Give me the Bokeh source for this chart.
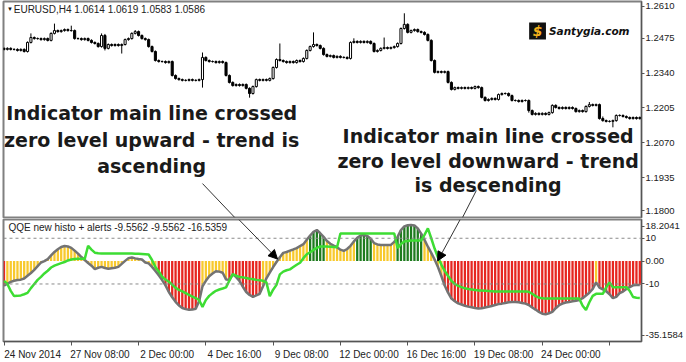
import numpy as np
from bokeh.plotting import figure
from bokeh.layouts import column
from bokeh.models import (Range1d, FixedTicker, Span, Label, Arrow, NormalHead,
                          ColumnDataSource, BoxAnnotation)
from bokeh.embed import file_html
from bokeh.resources import INLINE

# ---------------- data ----------------
# EURUSD H4 closes, one per bar (bar 0 = 24 Nov 2014 00:00)
CLOSE = [
    1.2432, 1.2436, 1.2432, 1.2432, 1.2428, 1.2432, 1.2424, 1.2459, 1.2478, 1.2474,
    1.2474, 1.2470, 1.2474, 1.2467, 1.2494, 1.2505, 1.2501, 1.2505, 1.2509, 1.2505,
    1.2505, 1.2474, 1.2474, 1.2470, 1.2474, 1.2467, 1.2459, 1.2455, 1.2443, 1.2486,
    1.2436, 1.2451, 1.2447, 1.2451, 1.2447, 1.2451, 1.2470, 1.2474, 1.2494, 1.2501,
    1.2486, 1.2474, 1.2470, 1.2443, 1.2424, 1.2389, 1.2385, 1.2385, 1.2381, 1.2385,
    1.2331, 1.2319, 1.2315, 1.2312, 1.2312, 1.2315, 1.2312, 1.2312, 1.2315, 1.2401,
    1.2389, 1.2385, 1.2385, 1.2381, 1.2385, 1.2381, 1.2331, 1.2304, 1.2292, 1.2296,
    1.2292, 1.2296, 1.2281, 1.2261, 1.2288, 1.2315, 1.2312, 1.2315, 1.2312, 1.2319,
    1.2362, 1.2393, 1.2389, 1.2385, 1.2381, 1.2385, 1.2381, 1.2389, 1.2385, 1.2397,
    1.2428, 1.2443, 1.2451, 1.2447, 1.2436, 1.2412, 1.2405, 1.2408, 1.2401, 1.2405,
    1.2401, 1.2401, 1.2397, 1.2459, 1.2463, 1.2459, 1.2463, 1.2459, 1.2463, 1.2455,
    1.2424, 1.2428, 1.2436, 1.2439, 1.2436, 1.2439, 1.2443, 1.2455, 1.2513, 1.2529,
    1.2498, 1.2505, 1.2509, 1.2501, 1.2498, 1.2490, 1.2467, 1.2389, 1.2343, 1.2346,
    1.2343, 1.2346, 1.2304, 1.2277, 1.2284, 1.2281, 1.2284, 1.2281, 1.2284, 1.2281,
    1.2288, 1.2284, 1.2246, 1.2234, 1.2238, 1.2242, 1.2238, 1.2257, 1.2261, 1.2261,
    1.2253, 1.2234, 1.2234, 1.2230, 1.2234, 1.2234, 1.2195, 1.2180, 1.2184, 1.2180,
    1.2184, 1.2180, 1.2187, 1.2215, 1.2207, 1.2203, 1.2207, 1.2203, 1.2207, 1.2203,
    1.2191, 1.2195, 1.2191, 1.2211, 1.2218, 1.2215, 1.2218, 1.2164, 1.2156, 1.2153,
    1.2153, 1.2156, 1.2176, 1.2176, 1.2172, 1.2168, 1.2164, 1.2168, 1.2164, 1.2168,
]
FIRST_OPEN = 1.2436          # each later bar opens at the previous close
PIP = 0.0001
# upper / lower shadows in pips
WICK_HI = [
    4, 4, 4, 4, 4, 4, 4, 4, 16, 4,
    4, 4, 4, 4, 4, 27, 4, 4, 4, 4,
    19, 4, 4, 4, 4, 4, 4, 4, 4, 8,
    6, 4, 4, 4, 4, 4, 4, 4, 4, 6,
    4, 4, 4, 4, 4, 4, 4, 4, 4, 4,
    4, 4, 4, 4, 4, 4, 4, 4, 4, 19,
    4, 4, 4, 4, 4, 4, 4, 4, 4, 4,
    4, 4, 4, 4, 4, 4, 4, 4, 4, 4,
    4, 4, 62, 4, 4, 4, 4, 4, 4, 4,
    4, 4, 47, 4, 4, 4, 4, 4, 4, 4,
    4, 4, 4, 4, 12, 4, 4, 4, 4, 4,
    4, 4, 4, 39, 4, 4, 4, 4, 4, 43,
    4, 4, 4, 4, 4, 4, 4, 4, 4, 4,
    4, 4, 4, 4, 4, 4, 4, 4, 4, 4,
    4, 4, 4, 4, 4, 4, 4, 4, 4, 4,
    4, 4, 4, 4, 4, 4, 4, 4, 4, 4,
    4, 4, 4, 4, 4, 4, 4, 4, 4, 4,
    4, 4, 4, 4, 10, 4, 4, 4, 8, 4,
    4, 4, 4, 4, 4, 4, 4, 4, 4, 4,
]
WICK_LO = [
    4, 4, 4, 4, 4, 4, 4, 4, 4, 4,
    4, 4, 4, 4, 4, 4, 4, 4, 4, 4,
    4, 4, 4, 4, 4, 4, 4, 4, 4, 4,
    8, 4, 4, 4, 4, 31, 4, 4, 4, 4,
    4, 4, 4, 4, 4, 4, 4, 4, 4, 4,
    4, 4, 4, 4, 4, 4, 4, 4, 4, 31,
    4, 4, 4, 4, 4, 4, 4, 4, 4, 4,
    4, 4, 4, 16, 4, 4, 4, 4, 4, 4,
    4, 4, 4, 4, 4, 4, 4, 4, 4, 4,
    4, 4, 4, 4, 4, 4, 4, 4, 4, 4,
    4, 4, 4, 4, 4, 4, 4, 4, 4, 4,
    4, 4, 4, 4, 4, 4, 4, 4, 4, 4,
    4, 4, 4, 4, 4, 4, 4, 4, 4, 4,
    4, 4, 4, 4, 4, 4, 4, 4, 4, 4,
    4, 4, 4, 4, 4, 4, 4, 4, 4, 4,
    4, 4, 4, 4, 4, 4, 8, 4, 4, 4,
    4, 4, 4, 4, 4, 4, 4, 4, 4, 4,
    4, 4, 4, 4, 4, 4, 4, 4, 4, 4,
    4, 23, 4, 4, 4, 4, 4, 4, 4, 4,
]
# QQE histogram (main line) per bar
HIST = [
    -10.7, -9.9, -9.1, -8.6, -8.3, -8.1, -7.6, -6.4, -5.2, -3.8,
    -2.2, -0.6, 0.0, 0.9, 2.5, 4.0, 5.2, 6.2, 6.6, 6.4,
    5.8, 4.6, 3.3, 1.8, 0.5, -0.8, -2.0, -3.5, -2.9, -2.5,
    -3.0, -3.3, -3.1, -2.9, -2.5, -1.2, 0.1, 1.3, 1.6, 1.2,
    0.9, 0.7, -0.6, -1.0, -2.5, -4.3, -6.2, -8.3, -10.6, -13.5,
    -15.8, -17.8, -19.4, -20.5, -21.0, -21.3, -21.2, -20.8, -17.5, -11.0,
    -8.6, -6.6, -5.4, -4.4, -4.6, -5.1, -8.0, -8.2, -5.8, -7.0,
    -8.7, -11.2, -13.5, -14.8, -15.6, -15.0, -14.3, -11.0, -7.5, -5.0,
    -2.6, -0.4, 1.7, 3.6, 4.0, 4.6, 5.1, 5.7, 6.6, 7.4,
    9.3, 11.2, 12.8, 13.6, 12.2, 10.6, 8.8, 7.6, 6.8, 6.1,
    5.0, 4.5, 5.3, 6.7, 8.6, 10.2, 11.2, 11.4, 11.0, 9.8,
    7.9, 7.3, 7.1, 7.1, 7.0, 7.1, 8.4, 10.6, 13.6, 15.2,
    15.7, 15.8, 15.6, 14.3, 12.0, 9.3, 6.3, 3.6, 0.7, -2.6,
    -6.5, -10.7, -13.8, -16.4, -17.5, -18.5, -19.0, -19.5, -19.9, -20.2,
    -20.5, -20.7, -20.6, -20.3, -20.0, -19.6, -19.2, -18.8, -18.6, -18.3,
    -18.0, -17.9, -17.9, -18.0, -18.3, -18.6, -19.2, -20.3, -21.2, -22.2,
    -23.0, -23.3, -22.8, -22.2, -20.6, -19.3, -18.6, -18.1, -17.9, -17.6,
    -17.3, -17.0, -16.2, -15.0, -13.8, -12.2, -9.3, -11.6, -12.4, -13.2,
    -14.5, -16.2, -15.6, -14.0, -13.3, -12.2, -11.4, -10.6, -10.4, -10.4,
]
# QQE trailing (signal) line per bar
SIGNAL = [
    -8.6, -10.0, -13.0, -15.3, -15.2, -15.0, -14.5, -13.9, -11.8, -10.0,
    -8.2, -6.9, -5.4, -4.2, -2.8, -2.0, -1.4, -0.9, -0.4, 0.3,
    0.7, 0.9, 1.0, 1.0, 1.0, 6.7, 5.0, 3.7, 3.4, 3.3,
    3.3, 3.3, 3.3, 3.3, 3.3, 3.3, 3.3, 3.3, 3.3, 3.2,
    3.2, 3.1, 3.0, 2.9, 0.5, -2.6, -4.5, -6.8, -8.0, -9.0,
    -10.3, -11.7, -12.6, -13.2, -14.0, -14.8, -15.5, -16.2, -17.0, -20.0,
    -17.0, -15.2, -14.0, -13.0, -12.4, -12.0, -11.5, -8.5, -5.7, -6.4,
    -6.9, -7.1, -7.4, -7.7, -7.9, -8.2, -8.4, -8.6, -9.3, -15.3,
    -12.5, -10.4, -5.8, -4.6, -4.0, -3.6, -2.6, -1.6, -0.7, 1.3,
    3.0, 3.9, 4.9, 5.8, 6.4, 6.4, 6.4, 6.3, 6.2, 6.1,
    12.1, 12.1, 12.1, 12.1, 12.1, 12.1, 12.1, 12.1, 12.1, 12.1,
    12.1, 12.1, 12.1, 12.1, 12.1, 12.1, 12.1, 5.7, 7.5, 8.6,
    8.8, 9.0, 9.0, 9.0, 9.0, 11.5, 14.3, 10.0, 5.5, 1.6,
    -1.5, -4.3, -6.5, -8.6, -10.0, -10.8, -11.4, -11.9, -12.2, -12.4,
    -12.6, -12.8, -12.9, -13.0, -13.1, -13.2, -13.3, -13.3, -13.3, -13.3,
    -13.3, -13.3, -13.3, -13.3, -13.3, -13.3, -13.4, -14.3, -15.3, -16.0,
    -16.2, -16.4, -16.4, -16.4, -16.4, -16.4, -16.4, -16.4, -16.4, -16.4,
    -16.4, -16.4, -19.5, -21.4, -18.0, -15.2, -14.3, -14.3, -14.3, -11.5,
    -9.3, -11.4, -11.4, -11.4, -11.4, -11.4, -13.0, -15.7, -16.0, -16.1,
]
# histogram bar colour runs: R = red, Y = yellow, G = dark green
HIST_COLOR_RUNS = [("R", 1), ("Y", 45), ("R", 13), ("Y", 8), ("R", 10), ("Y", 14),
                   ("G", 5), ("Y", 9), ("G", 5), ("Y", 7), ("G", 8), ("Y", 6),
                   ("R", 45), ("Y", 1), ("R", 13)]
PRICE_TICKS = [1.2610, 1.2475, 1.2340, 1.2205, 1.2070, 1.1935, 1.1800]
PRICE_TICK_LABELS = ["1.2610", "1.2475", "1.2340", "1.2205", "1.2070", "1.1935", "1.1800"]
IND_TICK_LABELS = ["18.2041", "10", "0.00", "-10", "-35.1584"]
IND_TICK_VALUES = [18.2041, 10, 0, -10, -35.1584]
TIME_TICK_BARS = [0, 20, 40, 60, 80, 100, 120, 140, 160, 180]
TIME_TICK_LABELS = ["24 Nov 2014", "27 Nov 08:00", "2 Dec 00:00", "4 Dec 16:00",
                    "9 Dec 08:00", "12 Dec 00:00", "16 Dec 16:00", "19 Dec 08:00",
                    "24 Dec 00:00", ""]
PRICE_TITLE = "EURUSD,H4 1.0614 1.0619 1.0583 1.0586"
IND_TITLE = "QQE new histo + alerts -9.5562 -9.5562 -16.5359"

# ---------------- build ----------------
N = len(CLOSE)
x = np.arange(N)
c = np.array(CLOSE)
o = np.array([FIRST_OPEN] + CLOSE[:-1])
hi = np.maximum(o, c) + np.array(WICK_HI) * PIP
lo = np.minimum(o, c) - np.array(WICK_LO) * PIP
fill = np.where(c >= o, "white", "black")
csrc = ColumnDataSource(dict(x=x, hi=hi, lo=lo, top=np.maximum(o, c),
                             bot=np.minimum(o, c), fill=fill))

cmap = {"R": "#E62620", "Y": "#F8C92C", "G": "#1E7B1E"}
hcols = []
for k, n in HIST_COLOR_RUNS:
    hcols += [cmap[k]] * n
hsrc = ColumnDataSource(dict(x=x, h=HIST, s=SIGNAL, col=hcols))

W = 686
XR = Range1d(-0.15, 189.5)
LABEL_FONT = "Liberation Sans"


def style_common(p):
    p.grid.visible = False
    p.outline_line_color = "#808080"
    p.outline_line_width = 2
    p.background_fill_color = "white"
    p.border_fill_color = "white"


def style_right_axis(ax):
    ax.major_label_text_font = LABEL_FONT
    ax.major_label_text_font_size = "9.5px"
    ax.major_label_text_color = "#222222"
    ax.major_tick_out = 3
    ax.major_tick_in = 0
    ax.minor_tick_out = 0
    ax.minor_tick_in = 0
    ax.axis_line_color = "#555555"
    ax.major_tick_line_color = "#555555"
    ax.major_label_standoff = 1


# ---- price window ----
top = figure(width=W, height=218, x_range=XR, y_range=Range1d(1.17805, 1.26177),
             x_axis_location=None, y_axis_location="right",
             output_backend="svg", toolbar_location=None,
             min_border_left=3, min_border_right=42, min_border_top=1, min_border_bottom=1)
style_common(top)
ya = top.yaxis[0]
# the end labels are drawn a touch inside the window, as the terminal does
price_label_pos = [PRICE_TICKS[0] - 0.0011] + PRICE_TICKS[1:-1] + [PRICE_TICKS[-1] + 0.0006]
ya.ticker = FixedTicker(ticks=price_label_pos)
ya.major_label_overrides = {p_: l for p_, l in zip(price_label_pos, PRICE_TICK_LABELS)}
style_right_axis(ya)

top.segment("x", "hi", "x", "lo", source=csrc, line_color="black", line_width=1)
top.vbar(x="x", top="top", bottom="bot", width=0.62, fill_color="fill",
         line_color="black", line_width=1, source=csrc)

top.add_layout(Label(x=0.9, y=1.2587, text="\u25BC", text_font_size="6px",
                     text_color="#111111", text_baseline="middle", text_align="left"))
top.add_layout(Label(x=2.9, y=1.2587, text=PRICE_TITLE, text_font=LABEL_FONT,
                     text_font_size="10px", text_color="#222222",
                     text_baseline="middle", text_align="left"))

# watermark logo
top.add_layout(BoxAnnotation(left=156.1, right=161.1, top=1.2536, bottom=1.2470,
                             fill_color="#111111", fill_alpha=1.0, line_color=None))
top.add_layout(Label(x=158.6, y=1.2503, text="$", text_font="DejaVu Sans",
                     text_font_style="bold italic", text_font_size="14px",
                     text_color="#F5B21C", text_align="center", text_baseline="middle"))
top.add_layout(Label(x=162.0, y=1.2503, text="Santygia.com", text_font="DejaVu Sans",
                     text_font_style="bold italic", text_font_size="10.5px",
                     text_color="#111111", text_align="left", text_baseline="middle"))

ANN = dict(text_font="DejaVu Sans", text_font_style="bold", text_font_size="19px",
           text_color="#1a1a1a", text_align="center", text_baseline="middle")
for txt, yy in [("Indicator main line crossed", 1.21836),
                ("zero level upward - trend is", 1.20790),
                ("ascending", 1.19782)]:
    top.add_layout(Label(x=43.9, y=yy, text=txt, **ANN))
for txt, yy in [("Indicator main line crossed", 1.20983),
                ("zero level downward - trend", 1.20014),
                ("is descending", 1.19084)]:
    top.add_layout(Label(x=143.9, y=yy, text=txt, **ANN))

top.add_layout(Arrow(end=None, x_start=59.0, y_start=1.1912, x_end=68.6, y_end=1.17805,
                     line_color="#333333", line_width=1))
top.add_layout(Arrow(end=None, x_start=140.4, y_start=1.1885, x_end=136.3, y_end=1.17805,
                     line_color="#333333", line_width=1))

# ---- indicator window ----
bot = figure(width=W, height=144, x_range=XR, y_range=Range1d(-35.1584, 18.2041),
             y_axis_location="right", output_backend="svg", toolbar_location=None,
             min_border_left=3, min_border_right=42, min_border_top=1, min_border_bottom=19)
style_common(bot)
yb = bot.yaxis[0]
# extreme labels are drawn just inside the window, as the terminal does
ind_label_pos = [15.2, 10, 0, -10, -32.4]
yb.ticker = FixedTicker(ticks=ind_label_pos)
yb.major_label_overrides = {p_: l for p_, l in zip(ind_label_pos, IND_TICK_LABELS)}
style_right_axis(yb)

xa = bot.xaxis[0]
SHIFT = 8.5
lab_ticks = [b + SHIFT for b, l in zip(TIME_TICK_BARS, TIME_TICK_LABELS) if l]
xa.ticker = FixedTicker(ticks=lab_ticks, minor_ticks=TIME_TICK_BARS)
xa.major_label_overrides = {b + SHIFT: l for b, l in zip(TIME_TICK_BARS, TIME_TICK_LABELS) if l}
xa.major_tick_out = 0
xa.major_tick_in = 0
xa.minor_tick_out = 4
xa.minor_tick_in = 0
xa.axis_line_color = "#555555"
xa.minor_tick_line_color = "#555555"
xa.major_label_standoff = 3
xa.major_label_text_font = LABEL_FONT
xa.major_label_text_font_size = "10px"
xa.major_label_text_color = "#222222"

for lv in (10, -10):
    bot.add_layout(Span(location=lv, dimension="width", line_color="#8a8a8a",
                        line_dash="3 3", line_width=1))

bot.vbar(x="x", top="h", bottom=0, width=0.68, fill_color="col", line_color=None, source=hsrc)
bot.line("x", "h", source=hsrc, line_color="#737373", line_width=2.5)
bot.line("x", "s", source=hsrc, line_color="#3DDD33", line_width=2.5)

bot.add_layout(Label(x=1.3, y=14.6, text=IND_TITLE, text_font=LABEL_FONT,
                     text_font_size="10px", text_color="#222222",
                     text_baseline="middle", text_align="left"))

head = dict(size=9, fill_color="black", line_color="black")
bot.add_layout(Arrow(end=NormalHead(**head), x_start=69.8, y_start=18.2, x_end=81.3, y_end=0.9,
                     line_color="#333333", line_width=1))
bot.add_layout(Arrow(end=NormalHead(**head), x_start=135.6, y_start=18.2, x_end=128.9, y_end=0.1,
                     line_color="#333333", line_width=1))

layout = column(top, bot, spacing=0)
open("out.html", "w").write(file_html(layout, INLINE))
